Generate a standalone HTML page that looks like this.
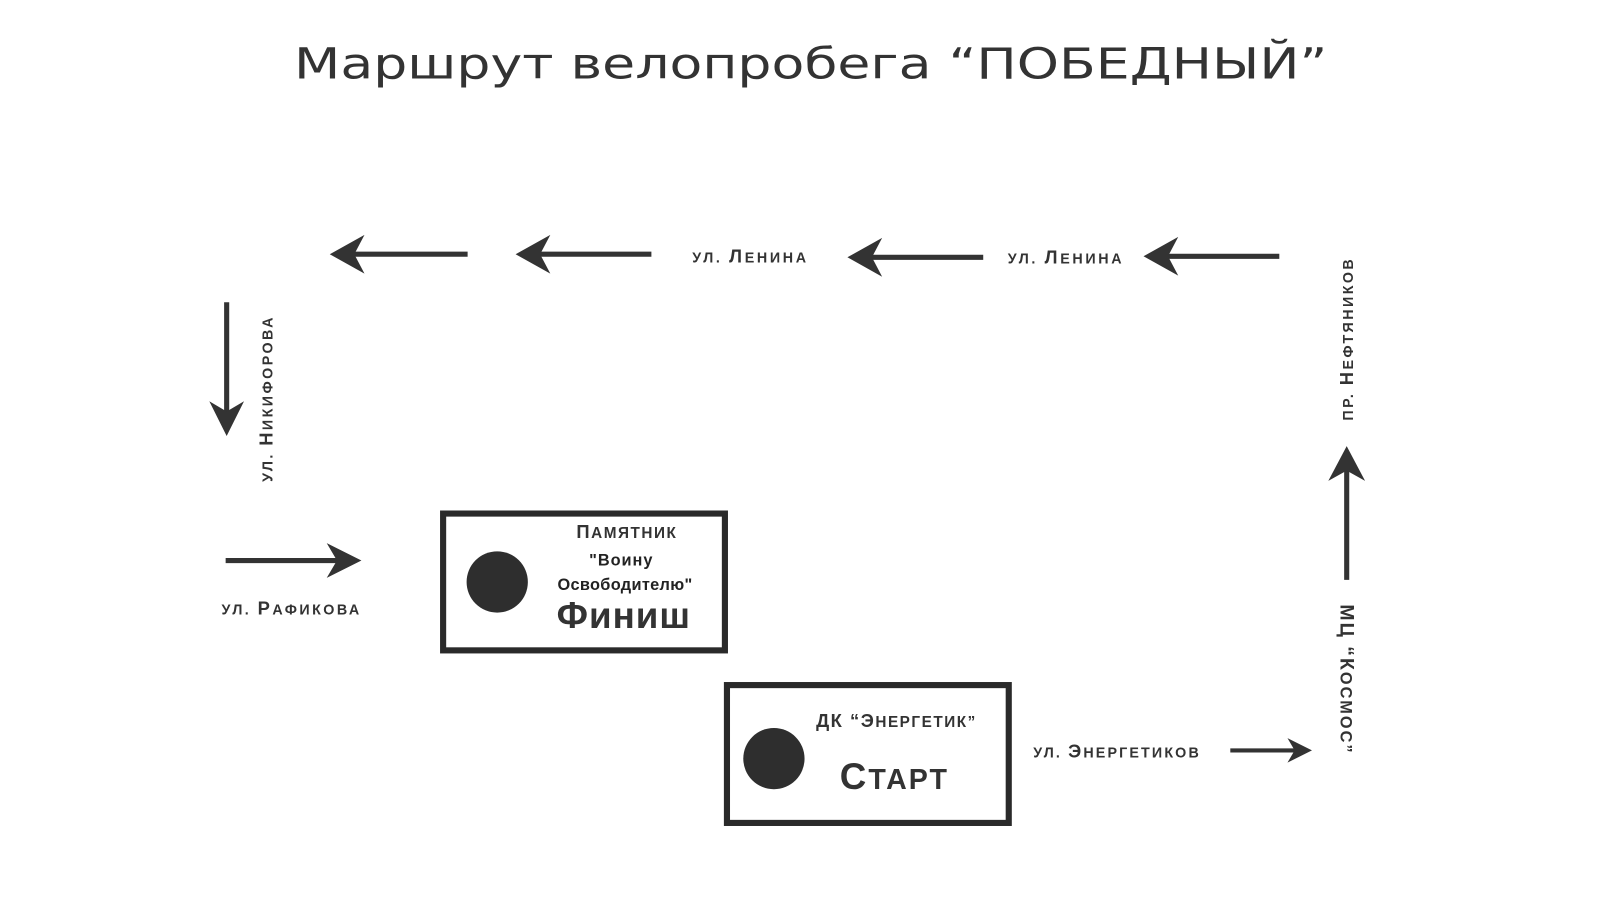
<!DOCTYPE html>
<html><head><meta charset="utf-8"><style>
html,body{margin:0;padding:0;background:#fff;}
svg{display:block;}
.t{font-family:"Liberation Sans","DejaVu Sans",sans-serif;font-weight:bold;fill:#333;}
</style></head><body>
<svg width="1600" height="900" viewBox="0 0 1600 900" xmlns="http://www.w3.org/2000/svg">
<rect width="1600" height="900" fill="#fff"/>
<g transform="scale(1.021)">
<text x="288" y="77" textLength="1012" lengthAdjust="spacingAndGlyphs" font-family="'DejaVu Sans','Liberation Sans',sans-serif" font-size="42" fill="#333">Маршрут велопробега “ПОБЕДНЫЙ”</text>

<g stroke="#333" stroke-width="5" fill="none">
<line x1="1253" y1="251" x2="1135" y2="251"/>
<line x1="963" y1="252" x2="845" y2="252"/>
<line x1="638" y1="249" x2="520" y2="249"/>
<line x1="458" y1="249" x2="338" y2="249"/>
<line x1="222" y1="296" x2="222" y2="412"/>
<line x1="221" y1="549" x2="340" y2="549"/>
<line x1="1205" y1="735" x2="1272" y2="735" stroke-width="4"/>
<line x1="1319" y1="568" x2="1319" y2="452"/>
</g>
<g fill="#333">
<path transform="translate(1120,251) rotate(180)" d="M0,0 L-34,-19 L-24,0 L-34,19 Z"/>
<path transform="translate(830,252) rotate(180)" d="M0,0 L-34,-19 L-24,0 L-34,19 Z"/>
<path transform="translate(505,249) rotate(180)" d="M0,0 L-34,-19 L-24,0 L-34,19 Z"/>
<path transform="translate(323,249) rotate(180)" d="M0,0 L-34,-19 L-24,0 L-34,19 Z"/>
<path transform="translate(222,427) rotate(90)" d="M0,0 L-34,-17 L-24,0 L-34,17 Z"/>
<path transform="translate(354,549)" d="M0,0 L-34,-17 L-24,0 L-34,17 Z"/>
<path transform="translate(1285,735)" d="M0,0 L-24,-12 L-17,0 L-24,12 Z"/>
<path transform="translate(1319,437) rotate(-90)" d="M0,0 L-34,-18 L-24,0 L-34,18 Z"/>
</g>

<text class="t" x="678" y="257" font-size="14" letter-spacing="2.6">УЛ. <tspan font-size="18">Л</tspan>ЕНИНА</text>
<text class="t" x="987" y="258" font-size="14" letter-spacing="2.6">УЛ. <tspan font-size="18">Л</tspan>ЕНИНА</text>
<text class="t" x="217" y="602" font-size="14" letter-spacing="2.4">УЛ. <tspan font-size="18">Р</tspan>АФИКОВА</text>
<text class="t" x="1012" y="742" font-size="14" letter-spacing="2.1">УЛ. <tspan font-size="18">Э</tspan>НЕРГЕТИКОВ</text>
<text class="t" transform="translate(267,472) rotate(-90)" font-size="14" letter-spacing="2.4">УЛ. <tspan font-size="18">Н</tspan>ИКИФОРОВА</text>
<text class="t" transform="translate(1325,412) rotate(-90)" font-size="14" letter-spacing="2.4">ПР. <tspan font-size="18">Н</tspan>ЕФТЯНИКОВ</text>
<text class="t" transform="translate(1313,592) rotate(90)" font-size="16" letter-spacing="2"><tspan font-size="19">МЦ “К</tspan>ОСМОС”</text>

<rect x="434" y="503" width="276" height="134" fill="none" stroke="#2a2a2a" stroke-width="6"/>
<circle cx="487" cy="570" r="30" fill="#2e2e2e"/>
<text class="t" x="614" y="527" font-size="15" text-anchor="middle" letter-spacing="1.5"><tspan font-size="18">П</tspan>АМЯТНИК</text>
<text x="608" y="554" font-size="16" text-anchor="middle" font-family="'Liberation Sans',sans-serif" font-weight="bold" fill="#222" textLength="62">"Воину</text>
<text x="612" y="578" font-size="16" text-anchor="middle" font-family="'Liberation Sans',sans-serif" font-weight="bold" fill="#222" textLength="132">Освободителю"</text>
<text class="t" x="611" y="615" font-size="36" text-anchor="middle" letter-spacing="1">Финиш</text>

<rect x="712" y="671" width="276" height="135" fill="none" stroke="#2a2a2a" stroke-width="6"/>
<circle cx="758" cy="743" r="30" fill="#2e2e2e"/>
<text class="t" x="878" y="712" font-size="15" text-anchor="middle" letter-spacing="1.5"><tspan font-size="18">ДК “Э</tspan>НЕРГЕТИК”</text>
<text class="t" x="876" y="773" font-size="28" text-anchor="middle" letter-spacing="2"><tspan font-size="36">С</tspan>ТАРТ</text>
</g>
</svg>
</body></html>
